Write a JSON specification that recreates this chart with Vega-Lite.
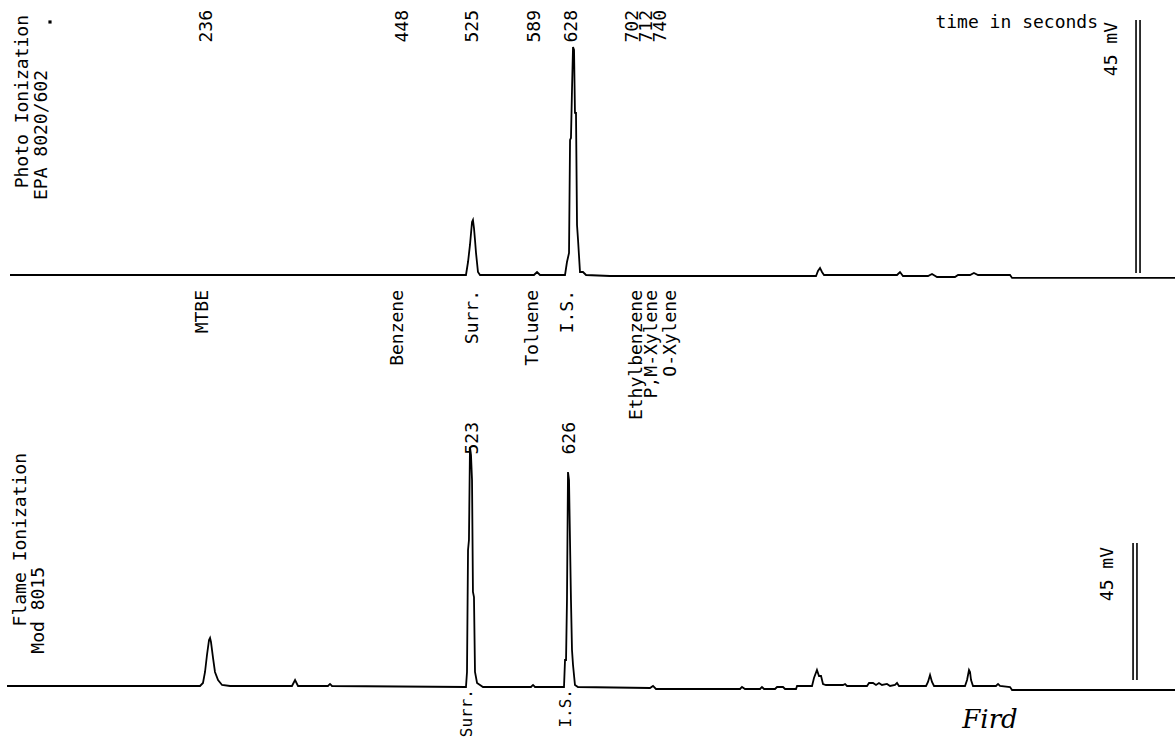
{
  "$schema": "https://vega.github.io/schema/vega-lite/v6.json",
  "width": 1175,
  "height": 743,
  "padding": 0,
  "autosize": {"type": "none"},
  "background": "white",
  "config": {"view": {"stroke": null}},
  "datasets": {
    "topTrace": [
      {"t":24.2,"mV":0},{"t":336.0,"mV":0},{"t":514.5,"mV":0},{"t":516.7,"mV":2.31},{"t":518.8,"mV":5.34},{"t":521.0,"mV":9.43},{"t":522.0,"mV":9.78},{"t":523.1,"mV":8.36},{"t":524.2,"mV":6.23},{"t":525.3,"mV":3.91},{"t":527.4,"mV":0.53},{"t":529.6,"mV":0},
      {"t":587.6,"mV":0},{"t":590.9,"mV":0.53},{"t":594.1,"mV":0},{"t":621.0,"mV":0},{"t":623.1,"mV":2.31},{"t":625.3,"mV":3.91},{"t":626.4,"mV":24.01},{"t":627.4,"mV":24.37},{"t":628.5,"mV":32.91},{"t":629.6,"mV":40.56},{"t":630.7,"mV":40.02},{"t":631.7,"mV":28.82},{"t":632.8,"mV":28.82},{"t":633.9,"mV":8.89},{"t":635.0,"mV":6.23},{"t":637.1,"mV":0.53},{"t":640.3,"mV":0.53},{"t":643.6,"mV":0},
      {"t":669.4,"mV":-0.18},{"t":712.4,"mV":-0.18},{"t":766.1,"mV":-0.18},{"t":890.9,"mV":-0.18},{"t":893.0,"mV":0.71},{"t":895.2,"mV":1.25},{"t":897.3,"mV":0.53},{"t":899.5,"mV":0},{"t":905.9,"mV":0},{"t":978.0,"mV":0},{"t":981.2,"mV":0.53},{"t":984.4,"mV":-0.18},{"t":1011.3,"mV":-0.18},{"t":1015.6,"mV":0.18},{"t":1021.0,"mV":-0.36},{"t":1040.3,"mV":-0.36},{"t":1043.6,"mV":0},{"t":1056.5,"mV":0},{"t":1060.7,"mV":0.36},{"t":1065.1,"mV":0},{"t":1078.0,"mV":0},{"t":1099.5,"mV":0},{"t":1101.7,"mV":-0.53},{"t":1276.9,"mV":-0.53}
    ],
    "bottomTrace": [
      {"t":21.0,"mV":0.33},{"t":88.7,"mV":0.33},{"t":228.5,"mV":0.33},{"t":231.7,"mV":1.31},{"t":233.9,"mV":4.93},{"t":236.0,"mV":10.51},{"t":238.2,"mV":15.44},{"t":239.3,"mV":16.10},{"t":240.3,"mV":14.78},{"t":242.5,"mV":9.53},{"t":244.6,"mV":4.93},{"t":247.9,"mV":2.30},{"t":252.2,"mV":0.66},{"t":260.8,"mV":0.33},
      {"t":327.4,"mV":0.33},{"t":330.7,"mV":2.30},{"t":333.9,"mV":0.33},{"t":366.1,"mV":0.33},{"t":368.3,"mV":0.99},{"t":370.4,"mV":0.33},
      {"t":514.5,"mV":0},{"t":515.6,"mV":4.93},{"t":516.7,"mV":45.01},{"t":517.7,"mV":48.29},{"t":518.8,"mV":78.84},{"t":519.9,"mV":76.22},{"t":521.0,"mV":68.00},{"t":522.0,"mV":31.21},{"t":523.1,"mV":29.57},{"t":524.2,"mV":4.93},{"t":526.4,"mV":1.31},{"t":532.8,"mV":0},
      {"t":584.4,"mV":0},{"t":586.6,"mV":0.66},{"t":588.7,"mV":0},{"t":619.9,"mV":0},{"t":621.0,"mV":8.87},{"t":622.1,"mV":8.87},{"t":623.1,"mV":28.58},{"t":624.2,"mV":70.63},{"t":625.3,"mV":68.00},{"t":627.4,"mV":28.58},{"t":628.5,"mV":12.16},{"t":629.6,"mV":7.23},{"t":631.7,"mV":0.66},{"t":634.9,"mV":0},
      {"t":712.4,"mV":-0.33},{"t":715.6,"mV":0.33},{"t":718.8,"mV":-0.66},{"t":809.2,"mV":-0.66},{"t":811.3,"mV":0},{"t":814.5,"mV":-0.66},{"t":830.7,"mV":-0.66},{"t":832.8,"mV":0},{"t":835.0,"mV":-0.66},{"t":846.8,"mV":-0.66},{"t":849.0,"mV":0},{"t":855.4,"mV":0},{"t":857.6,"mV":-0.66},{"t":869.4,"mV":-0.66},{"t":870.5,"mV":0.33},
      {"t":886.6,"mV":0.33},{"t":888.7,"mV":2.96},{"t":891.9,"mV":5.58},{"t":894.1,"mV":3.61},{"t":896.3,"mV":3.61},{"t":898.4,"mV":0.99},{"t":901.6,"mV":0.66},{"t":919.9,"mV":0.66},{"t":922.1,"mV":0.99},{"t":924.2,"mV":0.33},{"t":945.7,"mV":0.33},{"t":947.9,"mV":1.31},{"t":952.2,"mV":1.31},{"t":955.4,"mV":0.66},{"t":958.6,"mV":1.31},{"t":961.8,"mV":0.66},{"t":967.2,"mV":0.99},{"t":970.5,"mV":0.33},{"t":975.8,"mV":0.66},{"t":978.0,"mV":1.31},{"t":980.1,"mV":0.33},
      {"t":1009.2,"mV":0.33},{"t":1011.3,"mV":1.64},{"t":1013.5,"mV":3.94},{"t":1015.6,"mV":1.64},{"t":1017.8,"mV":0.33},{"t":1051.1,"mV":0.33},{"t":1053.3,"mV":2.30},{"t":1055.4,"mV":5.58},{"t":1056.5,"mV":4.93},{"t":1057.6,"mV":2.30},{"t":1059.7,"mV":0.33},{"t":1084.4,"mV":0.33},{"t":1086.6,"mV":0.99},{"t":1088.7,"mV":0.33},{"t":1099.5,"mV":0},{"t":1101.7,"mV":-0.99},{"t":1276.9,"mV":-0.99}
    ],
    "topLabels": [
      {"text":"236","t":236.0,"y":47.14},{"text":"448","t":446.8,"y":47.14},{"text":"525","t":522.0,"y":47.14},{"text":"589","t":588.7,"y":47.14},{"text":"628","t":628.5,"y":47.14},{"text":"702","t":694.1,"y":47.14},{"text":"712","t":709.2,"y":47.14},{"text":"740","t":724.3,"y":47.14},
      {"text":"MTBE","t":231.7,"y":-2.67},{"text":"Benzene","t":441.4,"y":-2.67},{"text":"Surr.","t":522.0,"y":-2.67},{"text":"Toluene","t":586.6,"y":-2.67},{"text":"I.S.","t":624.2,"y":-2.67},{"text":"Ethylbenzene","t":698.4,"y":-2.67},{"text":"P,M-Xylene","t":714.5,"y":-2.67},{"text":"O-Xylene","t":735.0,"y":-2.67},
      {"text":"Photo Ionization","t":38.2,"y":46.25},{"text":"EPA 8020/602","t":58.6,"y":36.46},{"text":"45 mV","t":1209.2,"y":45.0}
    ],
    "bottomLabels": [
      {"text":"523","t":522.0,"y":87.06},{"text":"626","t":626.4,"y":87.06},
      {"text":"Flame Ionization","t":36.0,"y":76.87},{"text":"Mod 8015","t":55.4,"y":39.42},{"text":"45 mV","t":1204.9,"y":46.0}
    ],
    "bottomCompounds": [
      {"text":"Surr.","t":515.6,"y":-0.66},{"text":"I.S.","t":622.1,"y":-0.66}
    ],
    "topBar": [{"t":1235.0,"y1":0.36,"y2":45.36},{"t":1239.3,"y1":0.36,"y2":45.36}],
    "bottomBar": [{"t":1231.8,"y1":2.30,"y2":47.31},{"t":1236.0,"y1":2.30,"y2":47.31}],
    "topNote": [{"text":"time in seconds","t":1194.1,"y":44.82}],
    "topDot": [{"t":67.2,"y":45.0}],
    "signature": [{"text":"Fird","t":1078.0,"y":-10.84}]
  },
  "layer": [
    {
      "layer": [
        {
          "data": {"name": "topTrace"},
          "mark": {"type": "line", "color": "black", "strokeWidth": 1.8, "interpolate": "linear"},
          "encoding": {
            "x": {"field": "t", "type": "quantitative", "scale": {"domain": [13.44, 1276.9], "nice": false, "zero": false}, "axis": null},
            "y": {"field": "mV", "type": "quantitative", "scale": {"domain": [-83.24, 48.91], "nice": false, "zero": false}, "axis": null}
          }
        },
        {
          "data": {"name": "topBar"},
          "mark": {"type": "rule", "color": "black", "strokeWidth": 1.6},
          "encoding": {
            "x": {"field": "t", "type": "quantitative"},
            "y": {"field": "y1", "type": "quantitative"},
            "y2": {"field": "y2"}
          }
        },
        {
          "data": {"name": "topLabels"},
          "mark": {"type": "text", "angle": 270, "align": "right", "baseline": "middle", "font": "DejaVu Sans Mono", "fontSize": 18, "color": "black"},
          "encoding": {
            "x": {"field": "t", "type": "quantitative"},
            "y": {"field": "y", "type": "quantitative"},
            "text": {"field": "text"}
          }
        },
        {
          "data": {"name": "topNote"},
          "mark": {"type": "text", "align": "right", "baseline": "middle", "font": "DejaVu Sans Mono", "fontSize": 18, "color": "black"},
          "encoding": {
            "x": {"field": "t", "type": "quantitative"},
            "y": {"field": "y", "type": "quantitative"},
            "text": {"field": "text"}
          }
        },
        {
          "data": {"name": "topDot"},
          "mark": {"type": "point", "shape": "square", "filled": true, "size": 10, "color": "black", "opacity": 1},
          "encoding": {
            "x": {"field": "t", "type": "quantitative"},
            "y": {"field": "y", "type": "quantitative"}
          }
        }
      ]
    },
    {
      "layer": [
        {
          "data": {"name": "bottomTrace"},
          "mark": {"type": "line", "color": "black", "strokeWidth": 1.8, "interpolate": "linear"},
          "encoding": {
            "x": {"field": "t", "type": "quantitative", "scale": {"domain": [13.44, 1276.9], "nice": false, "zero": false}, "axis": null},
            "y": {"field": "mV", "type": "quantitative", "scale": {"domain": [-18.40, 225.69], "nice": false, "zero": false}, "axis": null}
          }
        },
        {
          "data": {"name": "bottomBar"},
          "mark": {"type": "rule", "color": "black", "strokeWidth": 1.6},
          "encoding": {
            "x": {"field": "t", "type": "quantitative"},
            "y": {"field": "y1", "type": "quantitative"},
            "y2": {"field": "y2"}
          }
        },
        {
          "data": {"name": "bottomLabels"},
          "mark": {"type": "text", "angle": 270, "align": "right", "baseline": "middle", "font": "DejaVu Sans Mono", "fontSize": 18, "color": "black"},
          "encoding": {
            "x": {"field": "t", "type": "quantitative"},
            "y": {"field": "y", "type": "quantitative"},
            "text": {"field": "text"}
          }
        },
        {
          "data": {"name": "bottomCompounds"},
          "mark": {"type": "text", "angle": 270, "align": "right", "baseline": "middle", "font": "DejaVu Sans Mono", "fontSize": 16, "color": "black"},
          "encoding": {
            "x": {"field": "t", "type": "quantitative"},
            "y": {"field": "y", "type": "quantitative"},
            "text": {"field": "text"}
          }
        },
        {
          "data": {"name": "signature"},
          "mark": {"type": "text", "align": "center", "baseline": "middle", "font": "DejaVu Serif", "fontStyle": "italic", "fontSize": 26, "color": "black"},
          "encoding": {
            "x": {"field": "t", "type": "quantitative"},
            "y": {"field": "y", "type": "quantitative"},
            "text": {"field": "text"}
          }
        }
      ]
    }
  ],
  "resolve": {"scale": {"y": "independent"}}
}
